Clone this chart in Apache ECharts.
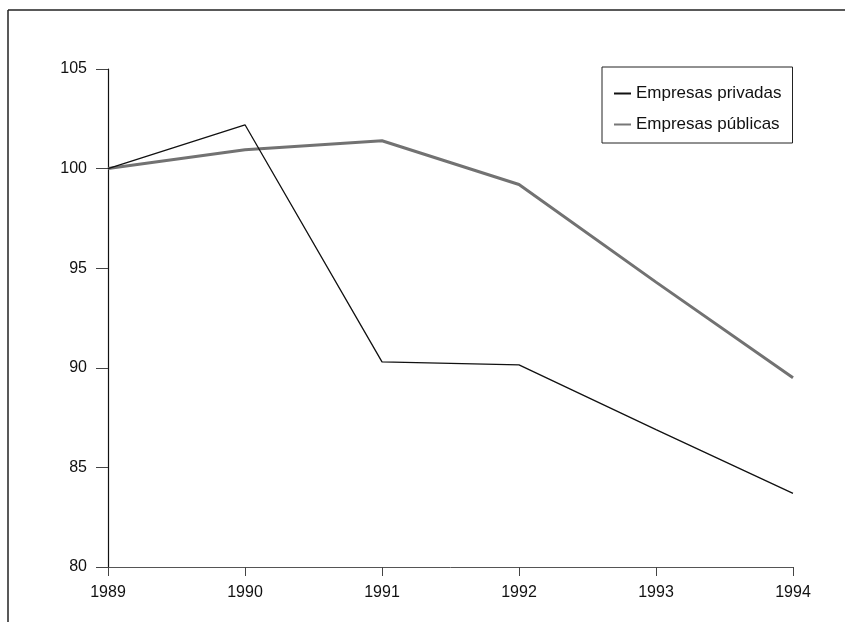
<!DOCTYPE html>
<html>
<head>
<meta charset="utf-8">
<script src="https://cdn.jsdelivr.net/npm/echarts@6/dist/echarts.min.js"></script>
<style>
	html, body { margin: 0; padding: 0; background: #fff; }
	#chart { width: 845px; height: 622px; }
</style>
</head>
<body>
<div id="chart"></div>
<script>
	// datos (índice 1989 = 100)
	var years = ['1989', '1990', '1991', '1992', '1993', '1994'];
	var privadas = [100, 102.2, 90.3, 90.15, 86.9, 83.7];
	var publicas = [100, 100.95, 101.4, 99.2, 94.3, 89.5];
	var yTicks = [80, 85, 90, 95, 100, 105];

	var font = '"Liberation Sans", Arial, sans-serif';
	var chart = echarts.init(document.getElementById('chart'));
	chart.setOption({
		animation: false,
		backgroundColor: '#fff',
		textStyle: { fontFamily: font },
		grid: { left: 108, right: 52, top: 69, bottom: 55, containLabel: false },
		graphic: [
			{ type: 'line', shape: { x1: 8, y1: 10, x2: 845, y2: 10 }, style: { stroke: '#222', lineWidth: 1.5 } },
			{ type: 'line', shape: { x1: 8, y1: 10, x2: 8, y2: 622 }, style: { stroke: '#222', lineWidth: 1.5 } }
		],
		legend: {
			orient: 'vertical',
			left: 602,
			top: 67,
			padding: [18, 11, 10, 12],
			itemGap: 14,
			itemWidth: 17,
			itemHeight: 2,
			borderColor: '#222',
			borderWidth: 1,
			textStyle: { fontSize: 17, color: '#111', fontFamily: font },
			data: [
				{ name: 'Empresas privadas', icon: 'rect', itemStyle: { color: '#111' } },
				{ name: 'Empresas públicas', icon: 'rect', itemStyle: { color: '#777' } }
			]
		},
		xAxis: {
			type: 'category',
			boundaryGap: false,
			data: years,
			axisLine: { lineStyle: { color: '#555', width: 1 } },
			axisTick: { alignWithLabel: true, length: 9, lineStyle: { color: '#444' } },
			axisLabel: { fontSize: 16, color: '#111', margin: 18 },
			splitLine: { show: false }
		},
		yAxis: {
			type: 'value',
			min: yTicks[0],
			max: yTicks[yTicks.length - 1],
			interval: 5,
			axisLine: { show: true, lineStyle: { color: '#111', width: 1.2 } },
			axisTick: { show: true, length: 12, lineStyle: { color: '#444' } },
			axisLabel: { fontSize: 16, color: '#111', margin: 21 },
			splitLine: { show: false }
		},
		series: [
			{
				name: 'Empresas privadas',
				type: 'line',
				data: privadas,
				symbol: 'none',
				lineStyle: { color: '#111', width: 1.3 },
				itemStyle: { color: '#111' },
				z: 3
			},
			{
				name: 'Empresas públicas',
				type: 'line',
				data: publicas,
				symbol: 'none',
				lineStyle: { color: '#727272', width: 3 },
				itemStyle: { color: '#777' },
				z: 2
			}
		]
	});
</script>
</body>
</html>
